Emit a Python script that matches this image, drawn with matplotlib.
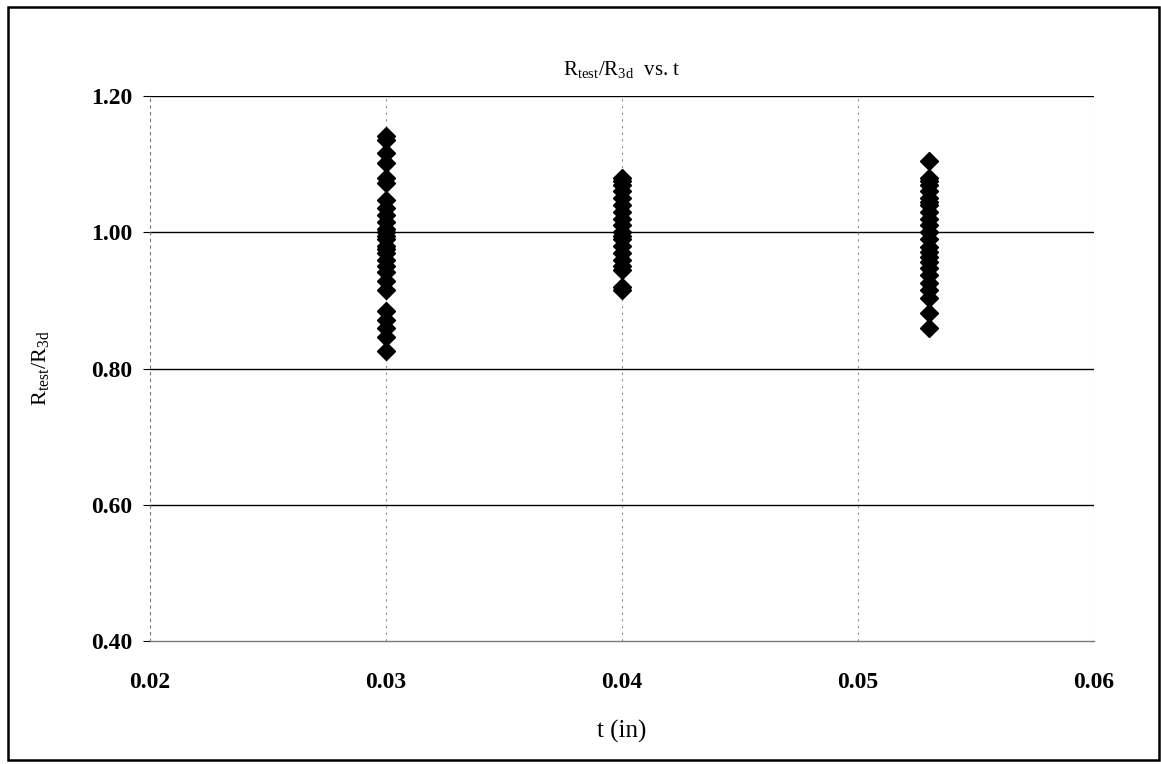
import matplotlib
matplotlib.use("Agg")
import matplotlib.pyplot as plt
from matplotlib.patches import Rectangle

plt.rcParams["font.family"] = "Liberation Serif"
plt.rcParams["mathtext.fontset"] = "custom"
plt.rcParams["mathtext.rm"] = "Liberation Serif"

# thickness t (in) and measured ratio Rtest/R3d for each group
t_030 = 0.030
ratio_030 = [1.142, 1.135, 1.116, 1.101, 1.079, 1.072, 1.047, 1.035,
             1.025, 1.015, 1.005, 1.000, 0.995, 0.990, 0.980, 0.975,
             0.970, 0.960, 0.951, 0.941, 0.929, 0.915, 0.885, 0.871,
             0.859, 0.846, 0.826]

t_040 = 0.040
ratio_040 = [1.080, 1.075, 1.070, 1.060, 1.050, 1.040, 1.030, 1.020,
             1.010, 1.000, 0.995, 0.990, 0.980, 0.970, 0.960, 0.950,
             0.945, 0.920, 0.915]

t_053 = 0.053
ratio_053 = [1.105, 1.080, 1.075, 1.070, 1.060, 1.050, 1.045, 1.040,
             1.030, 1.020, 1.010, 1.000, 0.990, 0.978, 0.971, 0.963,
             0.956, 0.947, 0.937, 0.926, 0.915, 0.903, 0.882, 0.859]

x_ticks = [0.02, 0.03, 0.04, 0.05, 0.06]
y_ticks = [0.40, 0.60, 0.80, 1.00, 1.20]

fig = plt.figure(figsize=(11.61, 7.64), dpi=100)
ax = fig.add_axes([0.1292, 0.161, 0.8131, 0.7133])

# outer chart frame
fig.patches.append(Rectangle((8 / 1161, 4 / 764), 1151 / 1161, 753 / 764,
                             transform=fig.transFigure, fill=False,
                             edgecolor="black", linewidth=1.8))

for t, vals in [(t_030, ratio_030), (t_040, ratio_040), (t_053, ratio_053)]:
    ax.plot([t] * len(vals), vals, linestyle="none", marker="D",
            markersize=9.5, color="black", zorder=3)

ax.set_xlim(x_ticks[0], x_ticks[-1])
ax.set_ylim(y_ticks[0], y_ticks[-1])
ax.set_xticks(x_ticks)
ax.set_yticks(y_ticks)
ax.set_xticklabels([f"{v:.2f}" for v in x_ticks], fontweight="bold")
ax.set_yticklabels([f"{v:.2f}" for v in y_ticks], fontweight="bold")

for y in y_ticks[1:]:
    ax.axhline(y, color="black", linewidth=1.0, zorder=1)
for x in x_ticks[1:]:
    ax.axvline(x, color="#8a8a8a", linewidth=0.8,
               linestyle=(0, (2, 4)), zorder=1)

for side in ["top", "right"]:
    ax.spines[side].set_visible(False)
ax.spines["left"].set_color("#777777")
ax.spines["left"].set_linewidth(0.8)
ax.spines["left"].set_linestyle((0, (2, 4)))
ax.spines["bottom"].set_color("#777777")
ax.spines["bottom"].set_linewidth(1.0)

ax.tick_params(axis="y", direction="out", length=5, width=0.8,
               labelsize=17, pad=8)
ax.tick_params(axis="x", direction="out", length=0, labelsize=17, pad=22)

ax.set_title(r"R$_{\mathrm{test}}$/R$_{\mathrm{3d}}$  vs. t",
             fontsize=15, pad=15)
ax.set_ylabel(r"R$_{\mathrm{test}}$/R$_{\mathrm{3d}}$", fontsize=16,
              labelpad=28)
ax.set_xlabel("t (in)", fontsize=18, labelpad=20)

fig.savefig("out.png", dpi=100)
